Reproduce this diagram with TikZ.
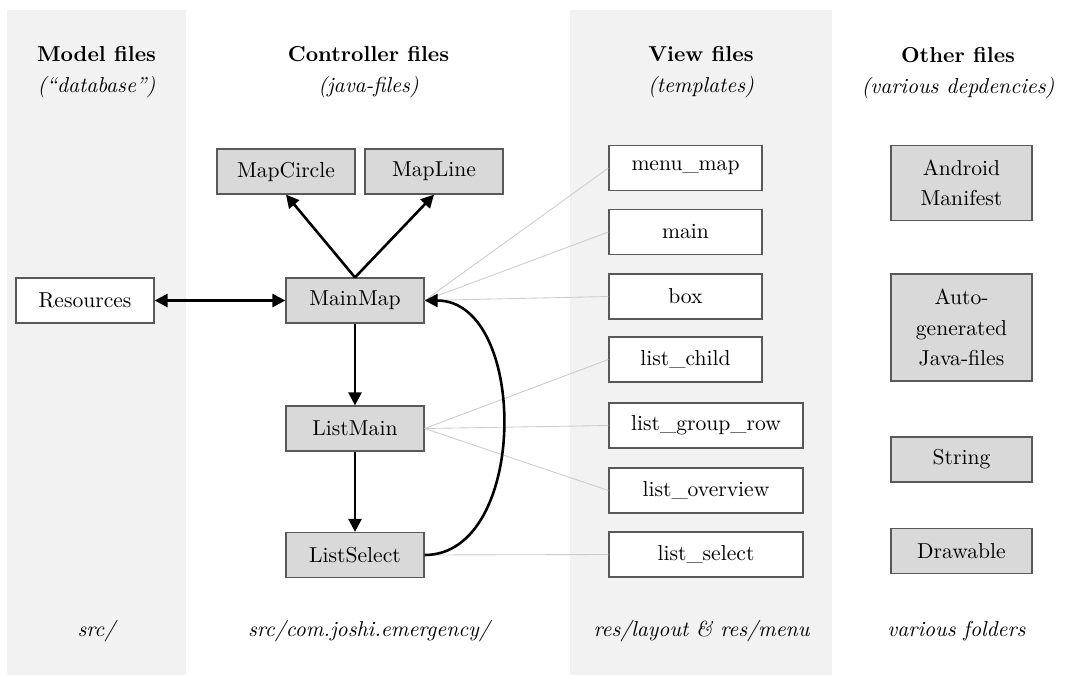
\documentclass[tikz,border=0pt]{standalone}
\usetikzlibrary{arrows.meta}
\begin{document}
\begin{tikzpicture}[x=0.463pt,y=-0.463pt,
  band/.style={fill=black!5,draw=none},
  filebox/.style={draw=black!65,line width=0.6pt,minimum height=20.8pt,inner sep=0pt,align=center,font=\fontsize{10}{14}\selectfont},
  ctrl/.style={filebox,fill=black!15,minimum width=63.9pt},
  res/.style={filebox,fill=white,minimum width=63.9pt},
  viewn/.style={filebox,fill=white,minimum width=70.8pt},
  vieww/.style={filebox,fill=white,minimum width=89.8pt},
  other/.style={filebox,fill=black!15,minimum width=65.3pt},
  head/.style={anchor=base,font=\bfseries},
  sub/.style={anchor=base,font=\itshape},
  link/.style={line width=1.2pt,-{Triangle[length=6pt,width=6pt]}},
  dlink/.style={line width=1.2pt,{Triangle[length=6pt,width=6pt]}-{Triangle[length=6pt,width=6pt]}},
  thin/.style={draw=black!20,line width=0.4pt}
]
\useasboundingbox (0,0) rectangle (1070,675);
% bands
\fill[band] (7,10) rectangle (186,675);
\fill[band] (570,10) rectangle (832,675);
% headers
\node[head] (hm) at (96.5,61) {Model files};
\node[sub]  (hm2) at (96.5,92) {(``database'')};
\node[head] (hc) at (368.5,61) {Controller files};
\node[sub]  (hc2) at (368.5,92) {(java-files)};
\node[head] (hv) at (701,61) {View files};
\node[sub]  (hv2) at (701,92) {(templates)};
\node[head] (ho) at (958,62) {Other files};
\node[sub]  (ho2) at (958,93) {(various depdencies)};
% footers
\node[sub] (fm) at (96.5,636) {src/};
\node[sub] (fc) at (369,636) {src/com.joshi.emergency/};
\node[sub] (fv) at (701.5,636) {res/layout \& res/menu};
\node[sub] (fo) at (956.5,636) {various folders};
% controller nodes
\node[ctrl] (MapCircle) at (286,171.5) {MapCircle};
\node[ctrl] (MapLine) at (434,171.5) {MapLine};
\node[ctrl] (MainMap) at (355,300.5) {MainMap};
\node[res]  (Resources) at (85,300.5) {Resources};
\node[ctrl] (ListMain) at (355,428.5) {ListMain};
\node[ctrl] (ListSelect) at (355,555) {ListSelect};
% view nodes
\node[viewn] (menumap) at (685.5,168) {menu\_map};
\node[viewn] (main) at (685.5,232) {main};
\node[viewn] (box) at (685.5,296.5) {box};
\node[viewn] (listchild) at (685.5,359.5) {list\_child};
\node[vieww] (listgroup) at (706,425.5) {list\_group\_row};
\node[vieww] (listoverview) at (706,490.5) {list\_overview};
\node[vieww] (listselect) at (706,554.5) {list\_select};
% other nodes
\node[other,minimum height=34.5pt] (manifest) at (961.5,183) {Android\\Manifest};
\node[other,minimum height=49.5pt] (auto) at (961.5,327.5) {Auto-\\generated\\Java-files};
\node[other] (string) at (961.5,459.5) {String};
\node[other] (drawable) at (961.5,551) {Drawable};
% thin links
\draw[thin] (MainMap.east) -- (menumap.west);
\draw[thin] (MainMap.east) -- (main.west);
\draw[thin] (MainMap.east) -- (box.west);
\draw[thin] (ListMain.east) -- (listchild.west);
\draw[thin] (ListMain.east) -- (listgroup.west);
\draw[thin] (ListMain.east) -- (listoverview.west);
\draw[thin] (ListSelect.east) -- (listselect.west);
% arrows
\draw[link] (MainMap.north) -- (MapCircle.south);
\draw[link] (MainMap.north) -- (MapLine.south);
\draw[dlink] (Resources.east) -- (MainMap.west);
\draw[link] (MainMap.south) -- (ListMain.north);
\draw[link] (ListMain.south) -- (ListSelect.north);
\draw[link] (ListSelect.east) to[out=0,in=0,looseness=1.05] (MainMap.east);
\end{tikzpicture}
\end{document}
